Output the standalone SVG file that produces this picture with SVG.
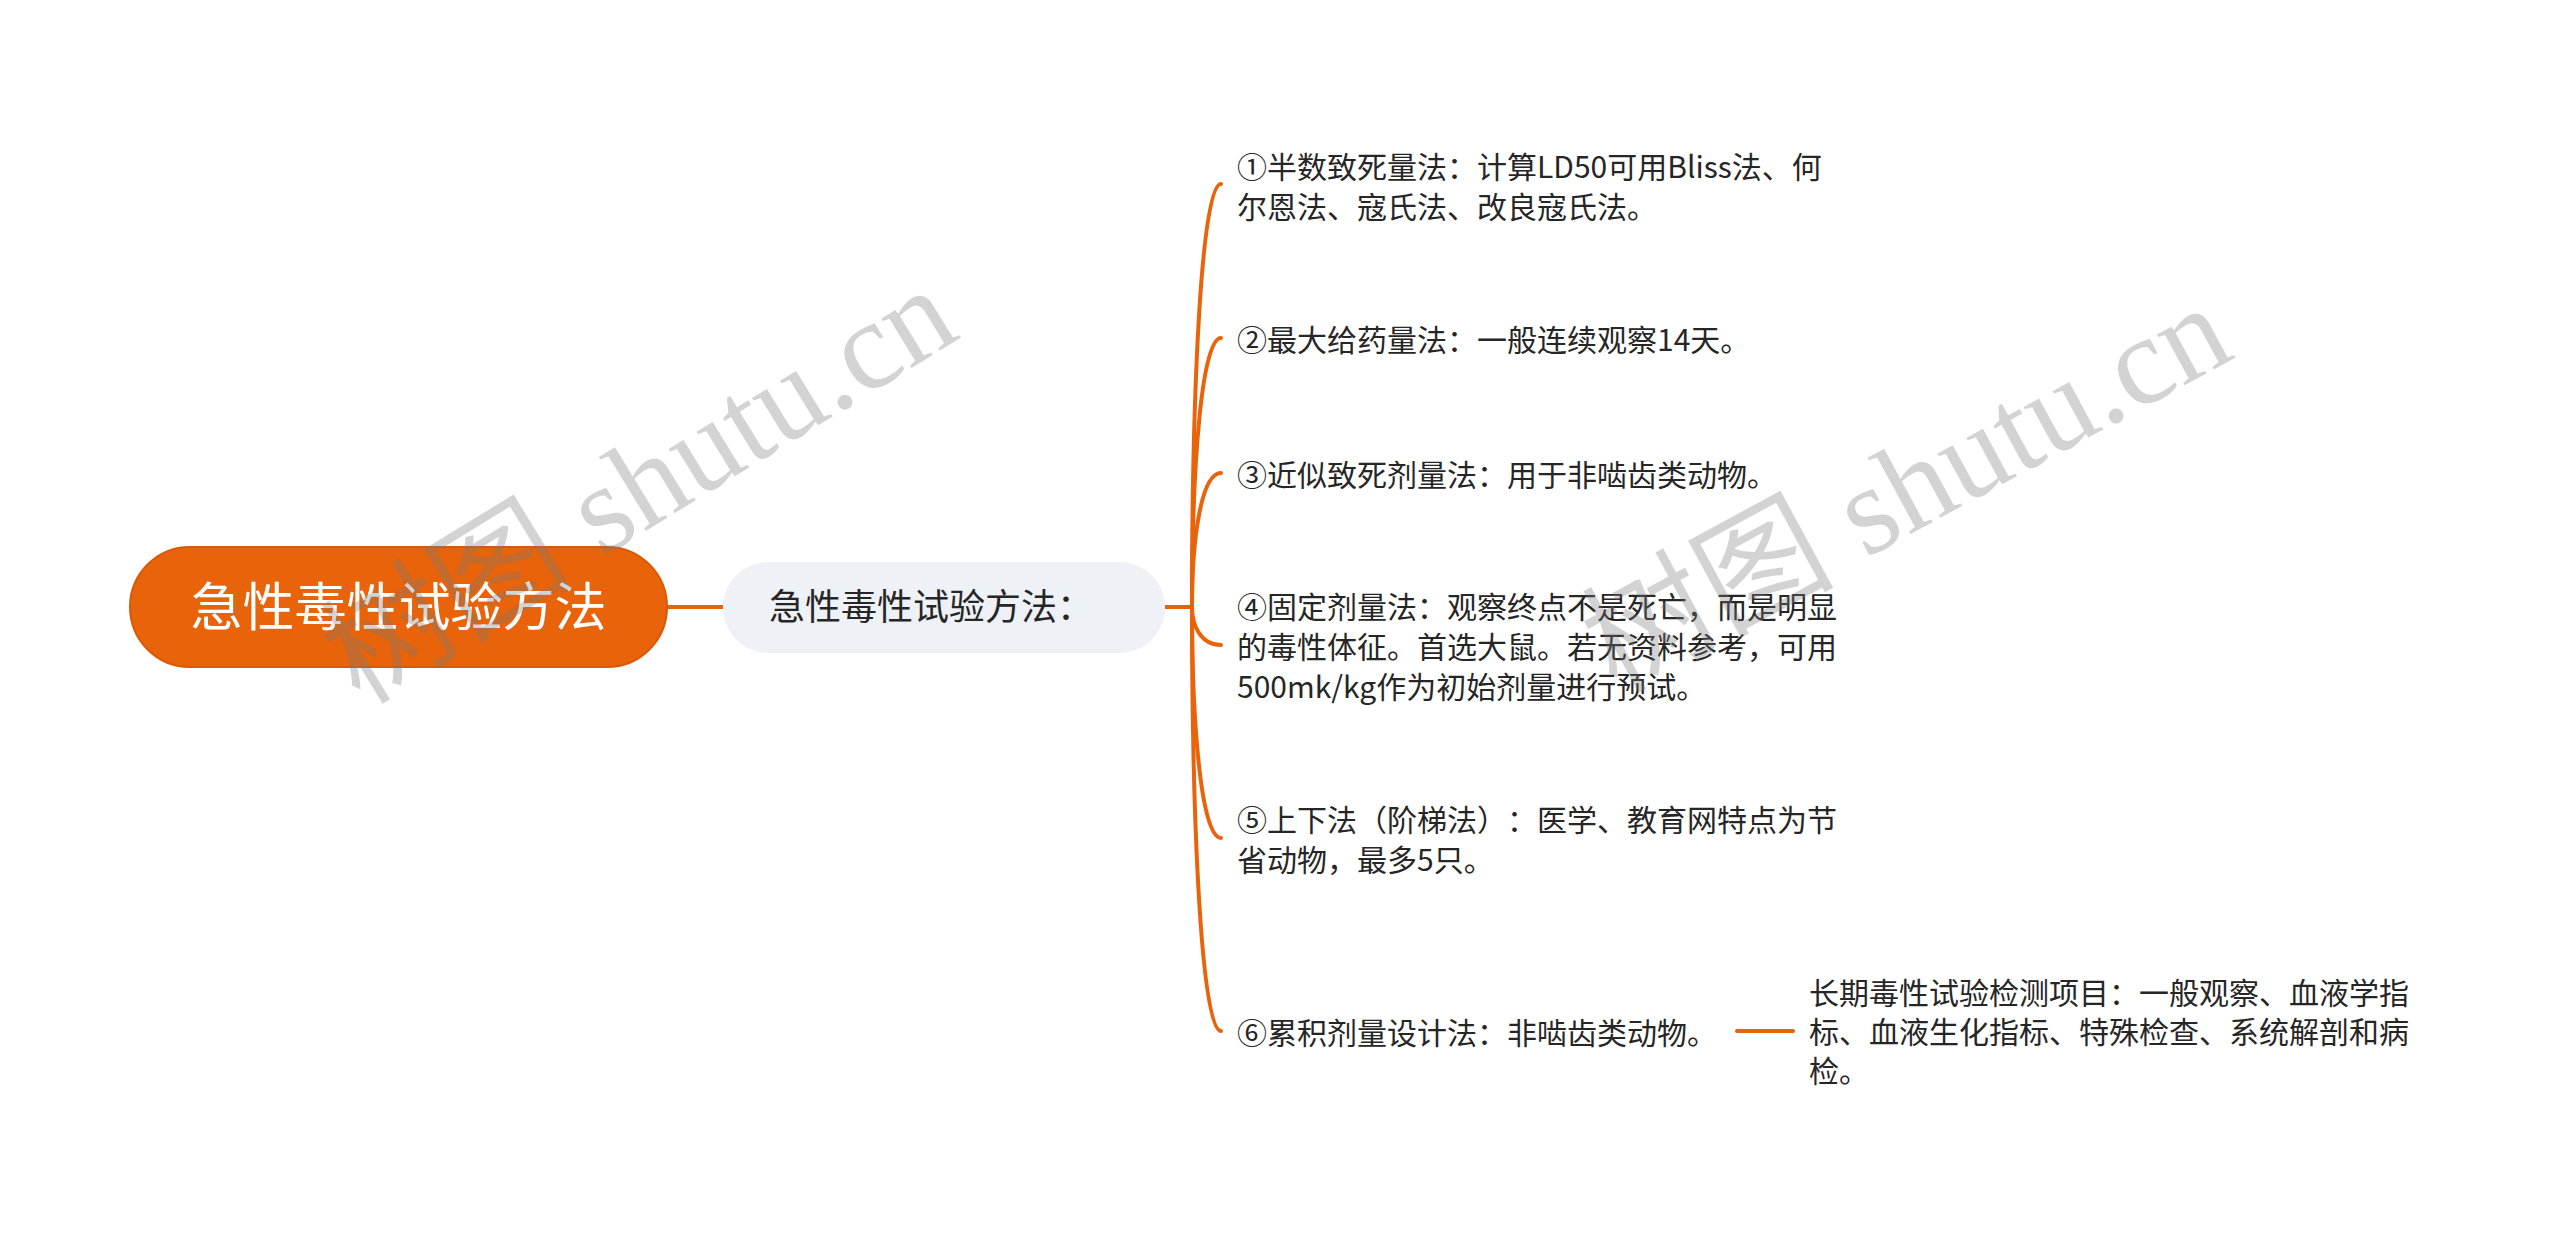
<svg xmlns="http://www.w3.org/2000/svg" width="2560" height="1235" viewBox="0 0 2560 1235">
<defs>
<style>
.t{font-family:"Noto Sans CJK SC","Noto Sans",sans-serif;font-size:30px;fill:#262626;text-spacing-trim:space-all;}
.c{fill:none;stroke:#E8630A;stroke-width:4;stroke-linecap:round;}
.wm{font-family:"Liberation Serif","Noto Sans CJK SC",serif;font-size:126px;fill:#7a7a7a;fill-opacity:0.33;}
</style>
</defs>
<rect width="2560" height="1235" fill="#ffffff"/>
<g id="connectors">
<path class="c" d="M667,607 H723"/>
<path class="c" d="M1165,607 H1192"/>
<path class="c" d="M1192,607 C1192,395 1201,184 1221,184"/>
<path class="c" d="M1192,607 C1192,472 1201,338 1221,338"/>
<path class="c" d="M1192,607 C1192,540 1201,473 1221,473"/>
<path class="c" d="M1192,607 C1192,626 1201,645 1221,645"/>
<path class="c" d="M1192,607 C1192,722 1201,838 1221,838"/>
<path class="c" d="M1192,607 C1192,819 1201,1031 1221,1031"/>
<path class="c" d="M1737,1031 H1793"/>
</g>
<g id="root">
<rect x="130" y="547" width="537" height="120" rx="60" fill="#E8630A" stroke="#D95A06" stroke-width="2"/>
<text x="398.5" y="626" text-anchor="middle" style="font-family:'Noto Sans CJK SC',sans-serif;font-size:52px;fill:#ffffff;">急性毒性试验方法</text>
</g>
<g id="node-main">
<rect x="723" y="562" width="442" height="91" rx="45.5" fill="#EEF1F5"/>
<text x="769" y="620" style="font-family:'Noto Sans CJK SC',sans-serif;font-size:36px;fill:#262626;">急性毒性试验方法：</text>
</g>
<g id="item1">
<text class="t" x="1237" y="178">①半数致死量法：计算LD50可用Bliss法、何</text>
<text class="t" x="1237" y="218">尔恩法、寇氏法、改良寇氏法。</text>
</g>
<g id="item2">
<text class="t" x="1237" y="351">②最大给药量法：一般连续观察14天。</text>
</g>
<g id="item3">
<text class="t" x="1237" y="486">③近似致死剂量法：用于非啮齿类动物。</text>
</g>
<g id="item4">
<text class="t" x="1237" y="618">④固定剂量法：观察终点不是死亡，而是明显</text>
<text class="t" x="1237" y="658">的毒性体征。首选大鼠。若无资料参考，可用</text>
<text class="t" x="1237" y="698">500mk/kg作为初始剂量进行预试。</text>
</g>
<g id="item5">
<text class="t" x="1237" y="831">⑤上下法（阶梯法）：医学、教育网特点为节</text>
<text class="t" x="1237" y="871">省动物，最多5只。</text>
</g>
<g id="item6">
<text class="t" x="1237" y="1044">⑥累积剂量设计法：非啮齿类动物。</text>
</g>
<g id="item6-child">
<text class="t" x="1809" y="1004">长期毒性试验检测项目：一般观察、血液学指</text>
<text class="t" x="1809" y="1043">标、血液生化指标、特殊检查、系统解剖和病</text>
<text class="t" x="1809" y="1082">检。</text>
</g>
<g id="watermarks">
<text class="wm" transform="translate(360,706) rotate(-31.5)">树图 shutu.cn</text>
<text class="wm" transform="translate(1616,694) rotate(-28.5)">树图 shutu.cn</text>
</g>
</svg>
